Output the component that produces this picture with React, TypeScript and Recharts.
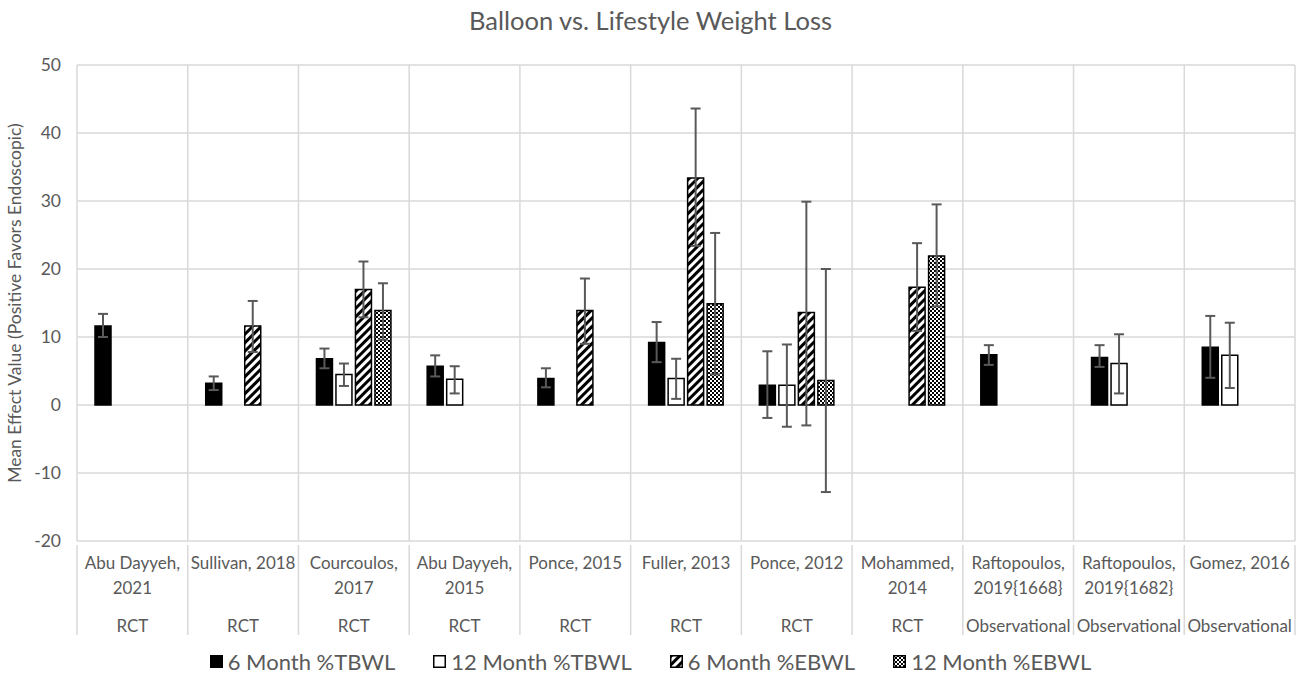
import React from 'react'
import { BarChart, Bar, XAxis, YAxis, CartesianGrid, ErrorBar } from 'recharts'

const FONT = 'Lato, "Open Sans", sans-serif'
const TEXT = '#595959'
const GRID = '#d9d9d9'

const W = 1301
const H = 680
const MARGIN = { top: 65, right: 6, bottom: 39, left: 0 }
const Y_AXIS_W = 77
const X_AXIS_H = 100

// studies (label lines split by \n) and study design
const studies = [
  'Abu Dayyeh,\n2021',
  'Sullivan, 2018',
  'Courcoulos,\n2017',
  'Abu Dayyeh,\n2015',
  'Ponce, 2015',
  'Fuller, 2013',
  'Ponce, 2012',
  'Mohammed,\n2014',
  'Raftopoulos,\n2019{1668}',
  'Raftopoulos,\n2019{1682}',
  'Gomez, 2016',
]
const studyTypes = ['RCT', 'RCT', 'RCT', 'RCT', 'RCT', 'RCT', 'RCT', 'RCT', 'Observational', 'Observational', 'Observational']

// means and error bar bounds (lower / upper)
const tbwl6 = [11.6, 3.2, 6.8, 5.7, 3.9, 9.2, 2.9, null, 7.4, 7.0, 8.5]
const tbwl6Lo = [10.0, 2.2, 5.4, 4.2, 2.6, 6.3, -1.9, null, 5.9, 5.6, 4.0]
const tbwl6Hi = [13.4, 4.2, 8.3, 7.3, 5.4, 12.2, 7.9, null, 8.8, 8.8, 13.1]

const tbwl12 = [null, null, 4.5, 3.8, null, 3.9, 2.9, null, null, 6.1, 7.3]
const tbwl12Lo = [null, null, 2.8, 1.7, null, 0.9, -3.2, null, null, 1.7, 2.5]
const tbwl12Hi = [null, null, 6.1, 5.7, null, 6.8, 8.9, null, null, 10.4, 12.1]

const ebwl6 = [null, 11.6, 17.0, null, 13.9, 33.4, 13.6, 17.3, null, null, null]
const ebwl6Lo = [null, 7.8, 12.9, null, 9.0, 23.4, -3.0, 10.9, null, null, null]
const ebwl6Hi = [null, 15.3, 21.1, null, 18.6, 43.6, 29.9, 23.8, null, null, null]

const ebwl12 = [null, null, 13.9, null, null, 14.9, 3.6, 21.9, null, null, null]
const ebwl12Lo = [null, null, 9.6, null, null, 4.5, -12.8, 14.5, null, null, null]
const ebwl12Hi = [null, null, 17.9, null, null, 25.3, 20.0, 29.5, null, null, null]

const yTicks = [-20, -10, 0, 10, 20, 30, 40, 50]

const series = [
  { key: 'tbwl6', name: '6 Month %TBWL', fill: '#000000', vals: tbwl6, lo: tbwl6Lo, hi: tbwl6Hi },
  { key: 'tbwl12', name: '12 Month %TBWL', fill: '#ffffff', vals: tbwl12, lo: tbwl12Lo, hi: tbwl12Hi },
  { key: 'ebwl6', name: '6 Month %EBWL', fill: 'url(#hatch)', vals: ebwl6, lo: ebwl6Lo, hi: ebwl6Hi },
  { key: 'ebwl12', name: '12 Month %EBWL', fill: 'url(#checker)', vals: ebwl12, lo: ebwl12Lo, hi: ebwl12Hi },
]

// recharts wants [minus, plus] offsets for asymmetric error bars
const data = studies.map((study, i) => {
  const row: any = { study, type: studyTypes[i] }
  series.forEach(s => {
    const v = s.vals[i]
    row[s.key] = v
    row[`${s.key}Err`] = v == null ? null : [v - (s.lo[i] as number), (s.hi[i] as number) - v]
  })
  return row
})

const plotLeft = MARGIN.left + Y_AXIS_W
const plotWidth = W - plotLeft - MARGIN.right
const band = plotWidth / studies.length

const Patterns = ({ id }: { id: string }) => (
  <defs>
    <pattern id={`hatch${id}`} width="6" height="6" patternUnits="userSpaceOnUse" patternTransform="rotate(45)">
      <rect width="6" height="6" fill="#fff" />
      <rect width="3" height="6" fill="#000" />
    </pattern>
    <pattern id={`checker${id}`} width="4" height="4" patternUnits="userSpaceOnUse">
      <rect width="4" height="4" fill="#fff" />
      <rect width="2" height="2" fill="#000" />
      <rect x="2" y="2" width="2" height="2" fill="#000" />
    </pattern>
  </defs>
)

const StudyTick = (props: any) => {
  const { x, y, payload, index } = props
  const lines: string[] = String(payload.value).split('\n')
  const left = x - band / 2
  return (
    <g>
      <line x1={left} x2={left} y1={y - 4} y2={y + 86} stroke={GRID} strokeWidth={1.5} />
      {index === studies.length - 1 && (
        <line x1={left + band} x2={left + band} y1={y - 4} y2={y + 86} stroke={GRID} strokeWidth={1.5} />
      )}
      {lines.map((l, i) => (
        <text key={i} x={x} y={y + 20 + i * 25} textAnchor="middle" fill={TEXT} fontSize={17} fontFamily={FONT}>
          {l}
        </text>
      ))}
      <text x={x} y={y + 83} textAnchor="middle" fill={TEXT} fontSize={17} fontFamily={FONT}>
        {studyTypes[index]}
      </text>
    </g>
  )
}

const Swatch = ({ fill }: { fill: string }) => (
  <svg width={13} height={13} style={{ marginRight: 5 }}>
    <Patterns id="L" />
    <rect x={0.75} y={0.75} width={11.5} height={11.5} fill={fill.replace(')', 'L)')} stroke="#000" strokeWidth={1.5} />
  </svg>
)

export default function App() {
  return (
    <div style={{ position: 'absolute', left: 0, top: 0, width: W, height: H, background: '#fff', fontFamily: FONT }}>
      <div style={{ position: 'absolute', top: 5, left: 0, width: W, textAlign: 'center', fontSize: 25.5, color: TEXT }}>
        Balloon vs. Lifestyle Weight Loss
      </div>
      <BarChart
        width={W}
        height={H}
        data={data}
        margin={MARGIN}
        barSize={16}
        barGap={3.5}
        barCategoryGap={17}
      >
        <Patterns id="" />
        <CartesianGrid
          stroke={GRID}
          strokeWidth={1.5}
          verticalCoordinatesGenerator={({ offset }: any) =>
            studies.map((_, i) => offset.left + (i * offset.width) / studies.length).concat(offset.left + offset.width)
          }
        />
        <XAxis
          dataKey="study"
          height={X_AXIS_H}
          axisLine={false}
          tickLine={false}
          interval={0}
          tick={<StudyTick />}
        />
        <YAxis
          width={Y_AXIS_W}
          domain={[-20, 50]}
          ticks={yTicks}
          axisLine={false}
          tickLine={false}
          tickSize={0}
          tickMargin={16}
          tick={{ fill: TEXT, fontSize: 17.5, fontFamily: FONT }}
          label={{
            value: 'Mean Effect Value (Positive Favors Endoscopic)',
            angle: -90,
            position: 'insideLeft',
            offset: 15,
            style: { textAnchor: 'middle', fill: TEXT, fontSize: 17.5, fontFamily: FONT },
          }}
        />
        {series.map(s => (
          <Bar key={s.key} dataKey={s.key} name={s.name} fill={s.fill} stroke="#000" strokeWidth={1.5} isAnimationActive={false}>
            <ErrorBar dataKey={`${s.key}Err`} width={5} stroke="#595959" strokeWidth={2} direction="y" />
          </Bar>
        ))}
      </BarChart>
      <div
        style={{
          position: 'absolute',
          top: 648,
          left: 0,
          width: W,
          display: 'flex',
          justifyContent: 'center',
          gap: 38,
          fontSize: 22,
          color: TEXT,
        }}
      >
        {series.map(s => (
          <div key={s.key} style={{ display: 'flex', alignItems: 'center' }}>
            <Swatch fill={s.fill} />
            <span>{s.name}</span>
          </div>
        ))}
      </div>
    </div>
  )
}
